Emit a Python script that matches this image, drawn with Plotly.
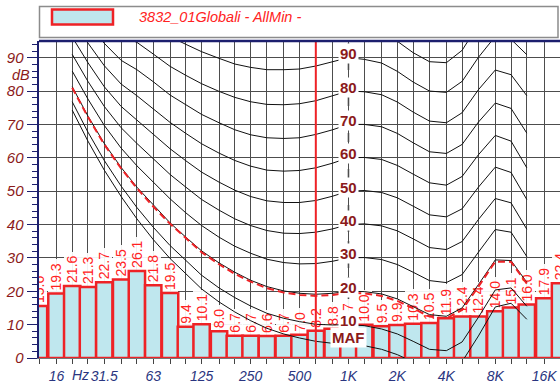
import numpy as np
import plotly.graph_objects as go

# ---------------- data ----------------
band_freqs = [12.5, 16, 20, 25, 31.5, 40, 50, 63, 80, 100, 125, 160, 200, 250, 315, 400,
              500, 630, 800, 1000, 1250, 1600, 2000, 2500, 3150, 4000, 5000, 6300, 8000,
              10000, 12500, 16000, 20000]
band_levels = [15.6, 19.3, 21.6, 21.3, 22.7, 23.5, 26.1, 21.8, 19.5, 9.4, 10.1, 8.0, 6.7,
               6.7, 6.6, 6.7, 7.0, 8.2, 8.8, 9.7, 10.0, 9.5, 9.9, 10.3, 10.5, 11.9, 12.4,
               12.4, 14.0, 15.1, 16.0, 17.9, 22.4]

contour_freqs = [20, 25, 31.5, 40, 50, 63, 80, 100, 125, 160, 200, 250, 315, 400, 500, 630,
                 800, 1000, 1250, 1600, 2000, 2500, 3150, 4000, 5000, 6300, 8000, 10000, 12500]
maf = [74.3, 65.0, 56.3, 48.4, 41.7, 35.5, 29.8, 25.1, 20.7, 16.8, 13.8, 11.2, 8.9, 7.2, 6.0,
       5.0, 4.4, 4.2, 3.7, 2.6, 1.0, -1.2, -3.6, -3.9, -1.1, 6.6, 15.3, 16.4, 11.6]
phon_10 = [76.8, 67.7, 59.2, 51.5, 45.1, 39.2, 33.7, 29.1, 24.8, 21.0, 18.1, 15.6, 13.4, 11.9,
           10.9, 10.1, 9.9, 10.0, 9.7, 8.7, 7.2, 5.0, 2.6, 2.2, 4.8, 12.2, 20.4, 21.0, 15.5]
phon_20 = [81.3, 72.5, 64.3, 57.1, 51.2, 45.8, 40.5, 36.2, 32.1, 28.5, 25.7, 23.3, 21.4, 20.1,
           19.4, 19.1, 19.4, 20.0, 19.9, 19.2, 17.7, 15.4, 13.0, 12.5, 15.0, 22.0, 29.4, 29.2, 22.7]
phon_30 = [86.0, 77.6, 69.7, 62.9, 57.6, 52.6, 47.7, 43.5, 39.7, 36.2, 33.5, 31.4, 29.6, 28.6,
           28.2, 28.3, 29.0, 30.0, 30.1, 29.5, 28.0, 25.7, 23.2, 22.6, 25.0, 31.7, 38.5, 37.7, 30.4]
phon_40 = [91.0, 82.9, 75.4, 69.0, 64.3, 59.7, 55.0, 51.2, 47.5, 44.3, 41.7, 39.7, 38.2, 37.4,
           37.3, 37.7, 38.7, 40.0, 40.2, 39.6, 38.1, 35.7, 33.1, 32.5, 34.9, 41.5, 47.8, 46.5, 38.6]
phon_50 = [96.2, 88.5, 81.3, 75.4, 71.3, 67.1, 62.7, 59.1, 55.7, 52.7, 50.3, 48.4, 47.1, 46.6,
           46.6, 47.2, 48.5, 50.0, 50.2, 49.6, 48.0, 45.5, 42.9, 42.3, 44.7, 51.2, 57.2, 55.6, 47.5]
phon_60 = [101.7, 94.4, 87.6, 82.1, 78.6, 74.8, 70.6, 67.3, 64.2, 61.4, 59.2, 57.5, 56.3, 56.0,
           56.2, 57.0, 58.4, 60.0, 60.1, 59.5, 57.7, 55.1, 52.5, 51.8, 54.4, 60.9, 66.7, 65.0, 57.0]
phon_70 = [107.6, 100.7, 94.3, 89.2, 86.4, 82.8, 78.8, 75.8, 73.0, 70.5, 68.4, 66.9, 66.0, 65.8,
           66.0, 67.0, 68.4, 70.0, 70.0, 69.3, 67.3, 64.5, 61.8, 61.3, 64.0, 70.7, 76.4, 74.8, 67.4]
phon_80 = [113.7, 107.3, 101.3, 96.6, 94.6, 91.1, 87.4, 84.7, 82.2, 79.9, 78.1, 76.8, 76.0, 75.9,
           76.2, 77.1, 78.5, 80.0, 79.8, 78.9, 76.7, 73.7, 71.0, 70.5, 73.5, 80.4, 86.3, 84.9, 78.6]
phon_90 = [120.3, 114.4, 108.7, 104.4, 103.2, 99.8, 96.3, 94.0, 91.8, 89.8, 88.1, 87.1, 86.4, 86.4,
           86.6, 87.5, 88.7, 90.0, 89.5, 88.4, 85.9, 82.7, 80.0, 79.6, 82.9, 90.1, 96.4, 95.5, 90.9]
phon_100 = [127.2, 121.9, 116.6, 112.6, 112.3, 108.9, 105.6, 103.6, 101.8, 100.1, 98.7, 97.8, 97.2,
            97.3, 97.4, 98.1, 99.0, 100.0, 99.1, 97.7, 94.9, 91.5, 88.8, 88.5, 92.2, 99.9, 106.6,
            106.4, 104.3]
loudness_contour = [81.0, 72.2, 64.0, 56.8, 50.9, 45.4, 40.2, 35.8, 31.7, 28.1, 25.2, 22.9, 20.9,
                    19.6, 18.9, 18.6, 18.9, 19.5, 19.4, 18.6, 17.1, 14.9, 12.4, 11.9, 14.4, 21.4,
                    28.9, 28.8, 22.3]
contour_labels = [90, 80, 70, 60, 50, 40, 30, 20, 10]

tick_freqs = [16, 31.5, 63, 125, 250, 500, 1000, 2000, 4000, 8000, 16000]
tick_labels = ["16", "31.5", "63", "125", "250", "500", "1K", "2K", "4K", "8K", "16K"]
marker_freq = 630
legend_text = "3832_01Globali - AllMin -"

# ---------------- layout constants ----------------
W, H = 560, 382
ML, MR, MT, MB = 39, 0, 41, 24
YMAX = 95
PX_PER_DB = (H - MT - MB) / YMAX
FONT = "Liberation Sans, Arial, sans-serif"
RED = "#ee2226"
LABEL_RED = "#ff2222"
DARKRED = "#8b1a1a"
NAVY = "#1c1f6e"
TICKBLUE = "#2a3580"
GRID = "#4d4d4d"

lx_b = np.log10(band_freqs)
lx_c = np.log10(contour_freqs)
bw = np.log10(2) / 3
band_text = [f"{v:.1f}" for v in band_levels]


def text_len_px(s, size=14):
    return sum(0.278 * size if ch == "." else 0.556 * size for ch in s)


bg_heights = [(text_len_px(s) + 7) / PX_PER_DB for s in band_text]

fig = go.Figure()
fig.add_bar(x=lx_b, y=bg_heights, base=band_levels, width=bw,
            marker=dict(color="rgba(255,255,255,0.92)", line=dict(width=0)),
            hoverinfo="skip", showlegend=False)
fig.add_bar(x=lx_b, y=band_levels, width=bw,
            marker=dict(color="#bfe7ee", line=dict(color=RED, width=2.5)),
            text=band_text, textposition="outside", textangle=-90,
            textfont=dict(color=LABEL_RED, size=14, family=FONT),
            constraintext="none", cliponaxis=True, showlegend=False)

for curve in [maf, phon_10, phon_20, phon_30, phon_40, phon_50, phon_60, phon_70,
              phon_80, phon_90, phon_100]:
    fig.add_scatter(x=lx_c, y=curve, mode="lines",
                    line=dict(color="#111111", width=1), hoverinfo="skip", showlegend=False)

fig.add_scatter(x=lx_c, y=loudness_contour, mode="lines",
                line=dict(color=RED, width=2, dash="7px,4px"),
                hoverinfo="skip", showlegend=False)


def px_x(p):
    return (p - ML) / (W - ML - MR)


def px_y(p):
    return (H - MB - p) / (H - MT - MB)


ann = []
for L in contour_labels:
    ann.append(dict(x=3.0, y=L, xref="x", yref="y", text=f"<b>{L}</b>", showarrow=False,
                    yshift=4, bgcolor="white", borderpad=1,
                    font=dict(size=15, color=DARKRED, family=FONT)))
ann.append(dict(x=3.0, y=maf[contour_freqs.index(1000)], xref="x", yref="y", text="<b>MAF</b>",
                showarrow=False, yshift=6, bgcolor="white", borderpad=1,
                font=dict(size=15, color=DARKRED, family=FONT)))
ann.append(dict(x=px_x(21), y=px_y(74.5), xref="paper", yref="paper", text="dB", showarrow=False,
                xanchor="center", yanchor="middle",
                font=dict(size=14.5, color=DARKRED, family=FONT, style="italic")))
ann.append(dict(x=np.log10(22.6), y=px_y(375), xref="x", yref="paper", text="Hz",
                showarrow=False, xanchor="center", yanchor="middle",
                font=dict(size=14, color=TICKBLUE, family=FONT, style="italic")))
ann.append(dict(x=px_x(137), y=px_y(16.5), xref="paper", yref="paper", text=legend_text,
                showarrow=False, xanchor="left", yanchor="middle",
                font=dict(size=14.5, color=LABEL_RED, family=FONT, style="italic")))

shapes = [
    dict(type="line", xref="x", yref="paper", x0=3.0, x1=3.0, y0=0, y1=1,
         line=dict(color="#9a9a9a", width=2, dash="dash"), layer="between"),
    dict(type="line", xref="x", yref="paper", x0=np.log10(marker_freq), x1=np.log10(marker_freq),
         y0=0, y1=1, line=dict(color=RED, width=2), layer="above"),
    dict(type="line", xref="paper", yref="paper", x0=0, x1=1, y0=1, y1=1,
         line=dict(color=NAVY, width=2.5), layer="above"),
    dict(type="rect", xref="paper", yref="paper", x0=px_x(39.5), x1=px_x(558), y0=px_y(37.5),
         y1=px_y(6.5), line=dict(color="#8c8c8c", width=1.5), fillcolor="white", layer="above"),
    dict(type="rect", xref="paper", yref="paper", x0=px_x(52), x1=px_x(113), y0=px_y(24.5),
         y1=px_y(9.5), line=dict(color=RED, width=2.5), fillcolor="#bfe7ee", layer="above"),
]

all_ticktext = [tick_labels[tick_freqs.index(f)] if f in tick_freqs else "" for f in band_freqs]

fig.update_layout(
    width=W, height=H, margin=dict(l=ML, r=MR, t=MT, b=MB, pad=0),
    paper_bgcolor="white", plot_bgcolor="white", barmode="overlay", bargap=0,
    showlegend=False, annotations=ann, shapes=shapes,
    font=dict(family=FONT),
    xaxis=dict(range=[np.log10(12.5), np.log10(20000)], tickmode="array", tickvals=lx_b,
               ticktext=all_ticktext, ticks="outside", ticklen=5, tickcolor="#444",
               showgrid=True, gridcolor=GRID, gridwidth=1, zeroline=False,
               showline=True, linecolor="#777", linewidth=1, ticklabelstandoff=0,
               tickfont=dict(size=14, color=TICKBLUE, family=FONT, style="italic"),
               automargin=False, fixedrange=True),
    yaxis=dict(range=[0, YMAX], tickmode="linear", tick0=0, dtick=10, ticks="outside",
               ticklen=10, tickcolor=NAVY, showgrid=True, gridcolor=GRID, gridwidth=1,
               zeroline=False, showline=True, linecolor=NAVY, linewidth=2.5,
               tickfont=dict(size=15, color=DARKRED, family=FONT, style="italic"),
               minor=dict(dtick=2, ticks="outside", ticklen=5, tickcolor=NAVY, showgrid=False),
               automargin=False, fixedrange=True),
)

fig.write_html("out.html", config={"displayModeBar": False, "staticPlot": True})

# remove the browser's default page margin so the figure sits at the window origin
with open("out.html", "r", encoding="utf-8") as fh:
    html = fh.read()
html = html.replace("<head>", "<head><style>html,body{margin:0;padding:0;overflow:hidden}</style>", 1)
with open("out.html", "w", encoding="utf-8") as fh:
    fh.write(html)
